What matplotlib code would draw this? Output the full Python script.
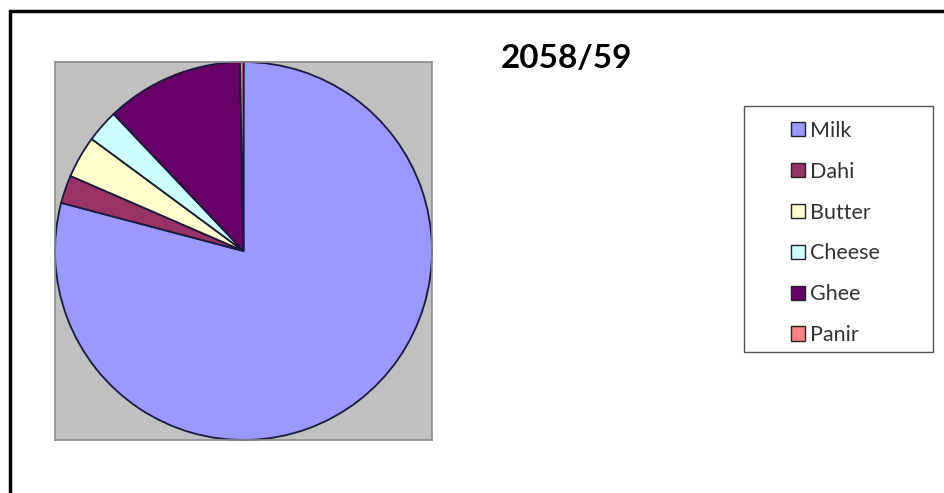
import matplotlib.pyplot as plt
from matplotlib.patches import Rectangle, Patch

labels = ['Milk', 'Dahi', 'Butter', 'Cheese', 'Ghee', 'Panir']
shares = [79.1, 2.4, 3.6, 2.8, 11.8, 0.3]
colors = ['#9999FF', '#993366', '#FFFFCC', '#CCFFFF', '#660066', '#FF8080']
title = '2058/59'

plt.rcParams['font.family'] = ['Lato', 'DejaVu Sans']

W, H = 945, 493
fig = plt.figure(figsize=(W / 100, H / 100), dpi=100)

# outer frame (only top/left edges visible in the crop)
fig.patches.append(Rectangle((10 / W, -0.1), 1.2, 1 - 11 / H + 0.1, transform=fig.transFigure,
                             fill=False, edgecolor='black', linewidth=2.5))

ax = fig.add_axes([55 / W, (H - 440) / H, 377 / W, 378 / H])
ax.pie(shares, colors=colors, startangle=90, counterclock=False, radius=1,
       wedgeprops=dict(edgecolor='#1a1a3a', linewidth=1.3))
ax.set_xlim(-1.0, 1.0)
ax.set_ylim(-1.0, 1.0)
ax.set_aspect('auto')
ax.set_frame_on(True)
ax.set_facecolor('#C0C0C0')
ax.set_xticks([])
ax.set_yticks([])
for s in ax.spines.values():
    s.set_color('#8c8c8c')
    s.set_linewidth(1.2)

fig.text(567 / W, 1 - 58 / H, title, ha='center', va='center', fontsize=24, fontweight='bold')

# legend box
fig.patches.append(Rectangle((744 / W, (H - 352) / H), 189 / W, 246 / H, transform=fig.transFigure,
                             fill=False, edgecolor='#555555', linewidth=1))
handles = [Patch(facecolor=c, edgecolor='#222222', linewidth=1) for c in colors]
leg = fig.legend(handles, labels, loc='upper left', bbox_to_anchor=(780 / W, 1 - 110 / H),
                 frameon=False, fontsize=15.5, handlelength=0.65, handleheight=0.65,
                 handletextpad=0.25, labelspacing=0.97, borderpad=0, labelcolor='#333333')

fig.savefig('out.png', dpi=100)
